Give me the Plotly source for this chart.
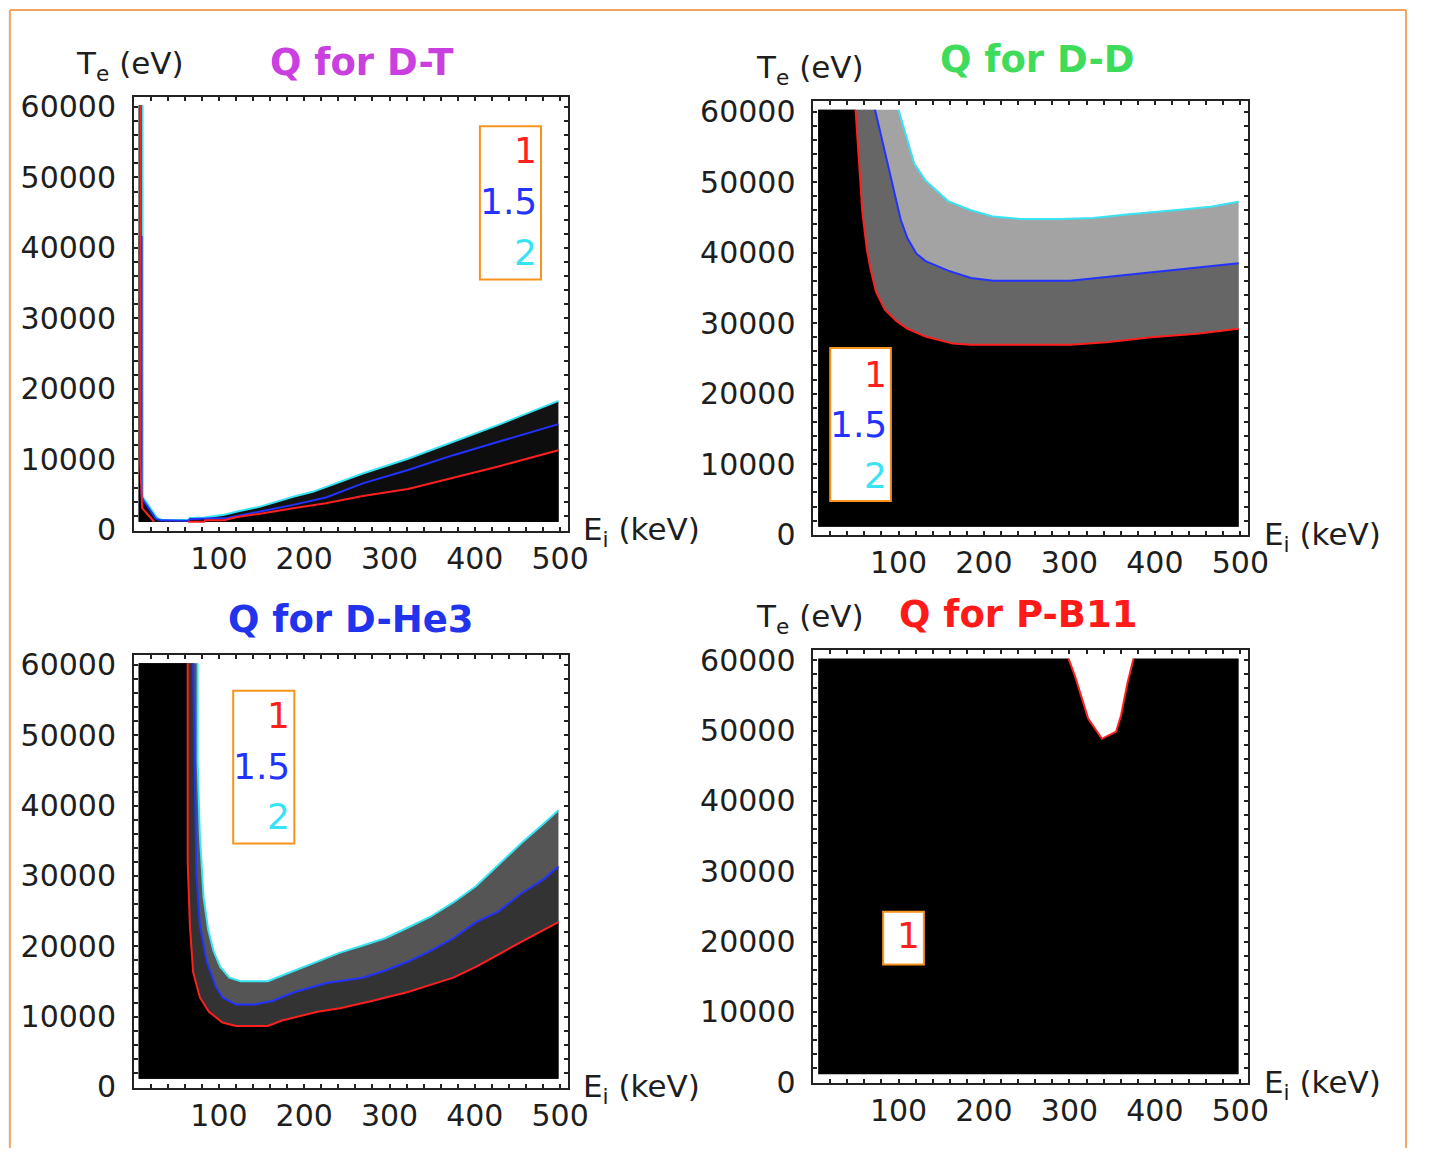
import plotly.graph_objects as go

W, H = 1429, 1165

# ---------------- data ----------------
# extent of the computed grid (E_i in keV, T_e in eV)
E_GRID = [6, 498]
T_GRID = [1150, 60250]

E_TICKS = [100, 200, 300, 400, 500]
T_TICKS = [0, 10000, 20000, 30000, 40000, 50000, 60000]
E_MINOR_STEP = 20
T_MINOR_STEP = 2000
LEVELS = ["1", "1.5", "2"]

# D-T contour boundaries
dt_q2_E = [10.5, 10.5, 12, 27.3, 33, 64, 66, 83, 106, 121.6, 148.5, 167.8, 187, 210, 225.5, 268.7, 321.7, 374.7, 427.6, 498]
dt_q2_T = [60250, 4700, 4450, 1700, 1450, 1400, 1700, 1750, 2160, 2620, 3300, 4000, 4700, 5400, 6100, 8000, 10100, 12500, 14900, 18300]
dt_q15_E = [9.4, 9.4, 11.5, 26, 32, 64, 66, 85, 110, 148.5, 187, 225.5, 268.7, 321.7, 374.7, 427.6, 498]
dt_q15_T = [41700, 4700, 4200, 1600, 1350, 1300, 1550, 1600, 1700, 2620, 3550, 4600, 6600, 8500, 10600, 12500, 15000]
dt_q1a_E = [7.7, 7.7, 9.5, 10, 24]
dt_q1a_T = [60250, 9800, 4700, 3080, 1150]
dt_q1b_E = [64, 83, 84, 106, 121.6, 148.5, 187, 225.5, 268.7, 321.7, 374.7, 427.6, 498]
dt_q1b_T = [1150, 1150, 1370, 1370, 1830, 2300, 3080, 3770, 4800, 5800, 7400, 9000, 11300]

# D-D contour boundaries
dd_q2_E = [100, 108, 118.5, 131.7, 158, 184.7, 211, 243, 290, 327.5, 370, 422.8, 465, 498]
dd_q2_T = [60250, 56900, 52600, 50200, 47300, 46000, 45100, 44750, 44750, 44900, 45450, 46000, 46500, 47200]
dd_q15_E = [72.5, 78.8, 86.8, 94.7, 102.6, 110.6, 121, 131.7, 158, 184.7, 211, 301, 343, 396, 449, 498]
dd_q15_T = [60250, 56900, 52600, 48400, 44650, 42000, 39850, 38800, 37450, 36400, 36000, 36000, 36550, 37200, 37900, 38500]
dd_q1_E = [49.7, 53.4, 57.7, 63, 67.2, 73.5, 84, 97.4, 110.6, 131.7, 163.5, 184.7, 301, 343, 396, 449, 498]
dd_q1_T = [60250, 53700, 45700, 40400, 37700, 34500, 31900, 30300, 29200, 28100, 27100, 26950, 26950, 27300, 28000, 28500, 29200]

# D-He3 contour boundaries
dhe_q2_E = [75, 75, 77.7, 82, 87.3, 93.6, 101.6, 112.2, 125.5, 157.3, 189, 215.6, 242, 268.7, 295, 321.7, 348, 374.8, 401.3, 427.8, 454.4, 480.9, 498]
dhe_q2_T = [60250, 46350, 35660, 27000, 22400, 19360, 17060, 15540, 15030, 15030, 16550, 17830, 19100, 20120, 21140, 22670, 24200, 26230, 28530, 31580, 34640, 37440, 39330]
dhe_q15_E = [69.8, 71.4, 73.5, 77.7, 85.7, 96.3, 104.2, 120, 141.4, 162.6, 189, 226.3, 268.7, 295, 321.7, 348, 374.8, 401.3, 427.8, 454.4, 481, 498]
dhe_q15_T = [60250, 45850, 30560, 22920, 17830, 14260, 12730, 11720, 11720, 12230, 13500, 14770, 15540, 16550, 17830, 19360, 21140, 23430, 24960, 27510, 29550, 31330]
dhe_q1_E = [63.4, 63.4, 66, 69.8, 77.7, 88.3, 104.2, 120, 157.3, 173, 215.6, 242, 279.3, 321.7, 348, 374.8, 401.3, 427.8, 454.4, 498]
dhe_q1_T = [60250, 32100, 22920, 16300, 12730, 10700, 9170, 8660, 8660, 9420, 10700, 11200, 12230, 13500, 14520, 15540, 17060, 18850, 20630, 23430]

# P-B11 contour boundary (Q = 1 notch)
pb_q1_E = [298.8, 306.5, 321.9, 338, 354.7, 360.4, 368, 375]
pb_q1_T = [60250, 57740, 51700, 48830, 49850, 52170, 56810, 60250]

# ---------------- styling ----------------
RED, BLUE, CYAN = "#ff1f1f", "#2233ff", "#38e4f4"
ORANGE = "#f7941d"
FONT = "DejaVu Sans"


def px(x):
    return x / W


def py(y):
    return 1 - y / H


fig = go.Figure()


def below(E, T, axis, color, left_top=None):
    """polygon covering the part of the grid below/left of a contour"""
    e0, e1 = E_GRID
    t0, t1 = T_GRID
    xs = list(E) + [e1, e0, e0]
    ys = list(T) + [t0, t0, left_top if left_top is not None else t1]
    fig.add_trace(go.Scatter(x=xs, y=ys, fill="toself", fillcolor=color, mode="lines",
                             line=dict(width=0, color=color), hoverinfo="skip",
                             xaxis="x" + axis, yaxis="y" + axis))


def poly(xs, ys, axis, color):
    fig.add_trace(go.Scatter(x=xs, y=ys, fill="toself", fillcolor=color, mode="lines",
                             line=dict(width=0, color=color), hoverinfo="skip",
                             xaxis="x" + axis, yaxis="y" + axis))


def line(E, T, axis, color):
    fig.add_trace(go.Scatter(x=E, y=T, mode="lines", line=dict(color=color, width=2),
                             hoverinfo="skip", xaxis="x" + axis, yaxis="y" + axis))


# panel 1: D-T
below(dt_q2_E, dt_q2_T, "1", "#131313")
below(dt_q15_E, dt_q15_T, "1", "#0d0d0d", left_top=dt_q15_T[0])
poly(dt_q1a_E + [E_GRID[0], E_GRID[0]], dt_q1a_T + [T_GRID[0], T_GRID[1]], "1", "#000000")
poly(dt_q1b_E + [E_GRID[1]], dt_q1b_T + [T_GRID[0]], "1", "#000000")
line(dt_q2_E, dt_q2_T, "1", CYAN)
line(dt_q15_E, dt_q15_T, "1", BLUE)
line(dt_q1a_E, dt_q1a_T, "1", RED)
line(dt_q1b_E, dt_q1b_T, "1", RED)

# panel 2: D-D
below(dd_q2_E, dd_q2_T, "2", "#a3a3a3")
below(dd_q15_E, dd_q15_T, "2", "#666666")
below(dd_q1_E, dd_q1_T, "2", "#000000")
line(dd_q2_E, dd_q2_T, "2", CYAN)
line(dd_q15_E, dd_q15_T, "2", BLUE)
line(dd_q1_E, dd_q1_T, "2", RED)

# panel 3: D-He3
below(dhe_q2_E, dhe_q2_T, "3", "#555555")
below(dhe_q15_E, dhe_q15_T, "3", "#333333")
below(dhe_q1_E, dhe_q1_T, "3", "#000000")
line(dhe_q2_E, dhe_q2_T, "3", CYAN)
line(dhe_q15_E, dhe_q15_T, "3", BLUE)
line(dhe_q1_E, dhe_q1_T, "3", RED)

# panel 4: P-B11 (everything black except the notch)
poly([E_GRID[0]] + pb_q1_E + [E_GRID[1], E_GRID[1], E_GRID[0]],
     [T_GRID[1]] + pb_q1_T + [T_GRID[1], T_GRID[0], T_GRID[0]], "4", "#000000")
line(pb_q1_E, pb_q1_T, "4", RED)

# ---------------- axes ----------------
# every small frame tick, labelled only at the major values
e_vals = list(range(E_MINOR_STEP, E_TICKS[-1] + 1, E_MINOR_STEP))
e_text = [str(v) if v in E_TICKS else "" for v in e_vals]
t_vals = list(range(0, T_TICKS[-1] + 1, T_MINOR_STEP))
t_text = [(str(v) + "\u00a0") if v in T_TICKS else "" for v in t_vals]

frames = {
    "1": (135.5, 91.8, 576.3, 534.6),
    "2": (824.6, 96.4, 1266.2, 539.6),
    "3": (135.5, 661.5, 576.3, 1103.4),
    "4": (824.6, 656.7, 1266.2, 1098.6),
}
tickfont = dict(family=FONT, size=30, color="#1e1e1e")
layout = {}
for k, (x0, y0, x1, y1) in frames.items():
    common = dict(showline=True, linecolor="#222222", linewidth=2, mirror="ticks",
                  ticks="inside", ticklen=4, tickwidth=1.5, tickcolor="#222222",
                  showgrid=False, zeroline=False, tickfont=tickfont)
    layout["xaxis" + k] = dict(domain=[px(x0), px(x1)], anchor="y" + k, range=[0, 509.5],
                               tickmode="array", tickvals=e_vals, ticktext=e_text, **common)
    layout["yaxis" + k] = dict(domain=[py(y1), py(y0)], anchor="x" + k, range=[-100, 61430],
                               tickmode="array", tickvals=t_vals, ticktext=t_text, **common)

fig.update_layout(**layout)

# ---------------- texts ----------------
ann = []


def text(t, x, y, size, color, xanchor="center", bold=False):
    ann.append(dict(text=("<b>%s</b>" % t) if bold else t, x=px(x), y=py(y), xref="paper", yref="paper",
                    showarrow=False, xanchor=xanchor, yanchor="middle",
                    font=dict(family=FONT, size=size, color=color)))


TE = "T<sub>e</sub> (eV)"
EI = "E<sub>i</sub> (keV)"
text("Q for D-T", 367, 57, 37, "#c93fe0", bold=True)
text("Q for D-D", 1052, 54, 37, "#3fdc5c", bold=True)
text("Q for D-He3", 356, 625, 37, "#2233ee", bold=True)
text("Q for P-B11", 1033, 620, 37, "#ff1a1a", bold=True)
text(TE, 132, 60, 31, "#1e1e1e")
text(TE, 822, 64, 31, "#1e1e1e")
text(TE, 822, 624, 31, "#1e1e1e")
text(EI, 589, 536, 31, "#1e1e1e", xanchor="left")
text(EI, 1280, 541, 31, "#1e1e1e", xanchor="left")
text(EI, 589, 1104, 31, "#1e1e1e", xanchor="left")
text(EI, 1280, 1100, 31, "#1e1e1e", xanchor="left")

# outer orange frame: left, top and right sides, running to the bottom edge
BORDER = dict(color="#f2a461", width=2)
shapes = [
    dict(type="line", xref="paper", yref="paper", x0=px(10), x1=px(10), y0=0, y1=py(3), line=BORDER),
    dict(type="line", xref="paper", yref="paper", x0=px(10), x1=px(1426), y0=py(3), y1=py(3), line=BORDER),
    dict(type="line", xref="paper", yref="paper", x0=px(1426), x1=px(1426), y0=0, y1=py(3), line=BORDER),
]

level_colors = [RED, BLUE, CYAN]
boxes = [
    ((486.7, 121.7, 548.7, 278.2), [149, 201, 252.6], 3),
    ((842, 348.3, 903.5, 504.4), [377, 428.6, 480.3], 3),
    ((236.5, 698.2, 298.5, 854), [725.7, 777, 828.4], 3),
    ((895.7, 923.7, 937, 977.6), [950], 1),
]
for (bx0, by0, bx1, by1), ys, n in boxes:
    shapes.append(dict(type="rect", xref="paper", yref="paper", x0=px(bx0), x1=px(bx1),
                       y0=py(by1), y1=py(by0), line=dict(color=ORANGE, width=2),
                       fillcolor="white", layer="above"))
    for i in range(n):
        text(LEVELS[i], bx1 - 2, ys[i] - 2, 36, level_colors[i], xanchor="right")

fig.update_layout(width=W, height=H, margin=dict(l=0, r=0, t=0, b=0),
                  paper_bgcolor="white", plot_bgcolor="white", showlegend=False,
                  annotations=ann, shapes=shapes)

fig.write_html("out.html")
